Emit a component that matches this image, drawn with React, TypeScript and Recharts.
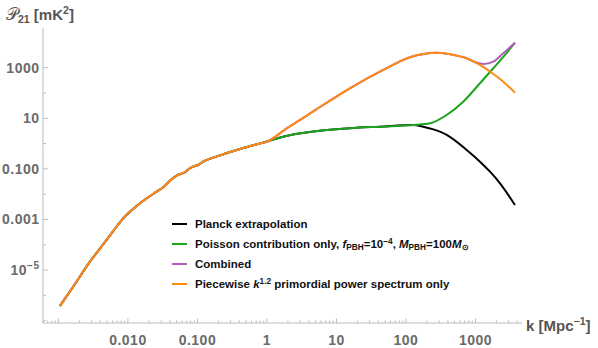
import React from "react";
import { LineChart, Line, XAxis, YAxis, Legend } from "recharts";

// k in Mpc^-1, P21 in mK^2. Below k = 1 all four curves are the same.
const lowK = [0.00105, 0.00163, 0.00284, 0.00494, 0.00856, 0.0149, 0.0259, 0.0322, 0.0426, 0.0502, 0.066, 0.078, 0.106, 0.121, 0.169, 0.235, 0.409, 0.711];
const lowP = [3.8e-7, 2.2e-6, 2.15e-5, 1.55e-4, 1.11e-3, 4.37e-3, 0.0126, 0.01875, 0.0388, 0.0538, 0.0734, 0.106, 0.152, 0.193, 0.277, 0.378, 0.612, 0.938];

const planckK = [1, 1.71, 15.6, 42.3, 127, 177, 308, 385, 747, 1161, 1618, 2254, 3700];
const planckP = [1.2, 1.87, 4.03, 4.66, 5.43, 4.66, 2.95, 2.19, 0.558, 0.193, 0.0775, 0.027, 0.00374];

const poissonK = [1, 1.71, 15.6, 42.3, 127, 221, 385, 667, 1161, 1805, 2656, 3700];
const poissonP = [1.2, 1.87, 4.03, 4.66, 5.43, 6.34, 13.5, 45.3, 242, 946, 3177, 9730];

const combinedK = [1, 2, 3, 5.19, 15.6, 47.1, 114, 276, 430, 747, 1000, 1318, 1805, 2513, 3700];
const combinedP = [1.2, 4.3, 8.6, 23, 153, 811, 2576, 3917, 3388, 2355, 1634, 1400, 1726, 3707, 9730];

const piecewiseK = [1, 2, 3, 5.19, 15.6, 47.1, 114, 276, 430, 747, 1161, 1618, 2513, 3700];
const piecewiseP = [1.2, 4.3, 8.6, 23, 153, 811, 2576, 3917, 3388, 2355, 1279, 695, 280, 103];

const xMajorTicks = [0.01, 0.1, 1, 10, 100, 1000];
const xTickLabels = ["0.010", "0.100", "1", "10", "100", "1000"];
const yMajorTicks = [1000, 10, 0.1, 0.001, 1e-5];
const yTickLabels = ["1000", "10", "0.100", "0.001", "10^-5"];
const yMinorTicks = [100, 1, 0.01, 1e-4, 1e-6, 1e-7];

const X_DOMAIN = [6.0e-4, 4.67e3];
const Y_DOMAIN = [8.1e-8, 3.7e4];

const AXIS = "#bcbcbc";
const LABEL = "#6a6a6a";
const FONT = "'Liberation Sans', Arial, sans-serif";

const rows = (ks: number[], ps: number[]) => ks.map((k, i) => ({ k, p: ps[i] }));
const withLow = (ks: number[], ps: number[]) => [...rows(lowK, lowP), ...rows(ks, ps)];

const series = [
	{ key: "planck", color: "#000000", data: withLow(planckK, planckP) },
	{ key: "poisson", color: "#1ca51c", data: withLow(poissonK, poissonP) },
	{ key: "combined", color: "#b05cb8", data: withLow(combinedK, combinedP) },
	{ key: "piecewise", color: "#ff8a12", data: withLow(piecewiseK, piecewiseP) },
];

// minor log ticks 2..9 for each decade, plus the decades themselves
const xTicks: number[] = [];
for (let d = -4; d <= 3; d++) {
	for (let m = 1; m <= 9; m++) {
		const v = m * Math.pow(10, d);
		if (v >= X_DOMAIN[0] && v <= X_DOMAIN[1]) xTicks.push(v);
	}
}
const yTicks = [...yMajorTicks, ...yMinorTicks];

const same = (a: number, b: number) => Math.abs(Math.log10(a) - Math.log10(b)) < 1e-6;
const isDecade = (v: number) => Math.abs(Math.log10(v) - Math.round(Math.log10(v))) < 1e-6;

const XTick = (props: any) => {
	const { x, y, payload } = props;
	const i = xMajorTicks.findIndex((t) => same(t, payload.value));
	return (
		<g>
			<line x1={x} x2={x} y1={y} y2={y - (isDecade(payload.value) ? 4.5 : 2.5)} stroke={AXIS} />
			{i >= 0 && (
				<text x={x} y={y + 21.5} textAnchor="middle" fill={LABEL} fontSize={14} fontWeight="bold" fontFamily={FONT} letterSpacing={0.5}>
					{xTickLabels[i]}
				</text>
			)}
		</g>
	);
};

const YTick = (props: any) => {
	const { x, y, payload } = props;
	const i = yMajorTicks.findIndex((t) => same(t, payload.value));
	const label = i >= 0 ? yTickLabels[i] : null;
	return (
		<g>
			<line x1={x} x2={x + (i >= 0 ? 5 : 3)} y1={y} y2={y} stroke={AXIS} />
			{label && (
				<text x={x - 3.5} y={y + 5} textAnchor="end" fill={LABEL} fontSize={14} fontWeight="bold" fontFamily={FONT} letterSpacing={0.5}>
					{label.includes("^") ? (
						<>
							{label.split("^")[0]}
							<tspan fontSize={10} dy={-6}>
								{label.split("^")[1].replace("-", "\u2212")}
							</tspan>
						</>
					) : (
						label
					)}
				</text>
			)}
		</g>
	);
};

const XTitle = (props: any) => {
	const { viewBox } = props;
	const x = viewBox.x + viewBox.width + 4;
	const y = viewBox.y + 8;
	return (
		<text x={x} y={y} fill="#555" fontSize={15} fontWeight="bold" fontFamily={FONT}>
			k [Mpc
			<tspan fontSize={10.5} dy={-6}>
				{"\u22121"}
			</tspan>
			<tspan dy={6}>]</tspan>
		</text>
	);
};

const YTitle = (props: any) => {
	const { viewBox } = props;
	const x = viewBox.x + 6;
	const y = viewBox.y - 8;
	return (
		<text x={x} y={y} fill="#555" fontSize={15} fontFamily={FONT}>
			<tspan fontSize={17}>{"\u{1D4AB}"}</tspan>
			<tspan fontSize={10.5} dy={3} fontWeight="bold">
				21
			</tspan>
			<tspan dy={-3} fontWeight="bold">
				{" [mK"}
			</tspan>
			<tspan fontSize={10.5} dy={-6} fontWeight="bold">
				2
			</tspan>
			<tspan dy={6} fontWeight="bold">
				]
			</tspan>
		</text>
	);
};

const sub: React.CSSProperties = { fontSize: "0.72em", verticalAlign: "-0.25em", lineHeight: 0 };
const sup: React.CSSProperties = { fontSize: "0.72em", verticalAlign: "0.45em", lineHeight: 0 };

const legendLabels: React.ReactNode[] = [
	"Planck extrapolation",
	<>
		Poisson contribution only, <i>f</i>
		<span style={sub}>PBH</span>=10<span style={sup}>{"\u22124"}</span>, <i>M</i>
		<span style={sub}>PBH</span>=100<i>M</i>
		<span style={sub}>{"\u2299"}</span>
	</>,
	"Combined",
	<>
		Piecewise <i>k</i>
		<span style={sup}>1.2</span> primordial power spectrum only
	</>,
];

const LegendBox = () => (
	<div style={{ fontFamily: FONT, fontSize: 11.5, fontWeight: "bold", color: "#111" }}>
		{series.map((s, i) => (
			<div key={s.key} style={{ display: "flex", alignItems: "center", height: 20, whiteSpace: "nowrap" }}>
				<div style={{ width: 15, height: 2, background: s.color, marginRight: 8 }} />
				<span>{legendLabels[i]}</span>
			</div>
		))}
	</div>
);

export default function App() {
	return (
		<div style={{ position: "absolute", left: 0, top: 0, width: 598, height: 348, background: "#fff" }}>
			<LineChart width={598} height={348} margin={{ top: 28, right: 76, bottom: 0, left: 0 }}>
				<XAxis
					type="number"
					dataKey="k"
					scale="log"
					domain={X_DOMAIN}
					allowDataOverflow
					ticks={xTicks}
					interval={0}
					height={25}
					tickSize={0}
					tickMargin={0}
					tickLine={false}
					axisLine={{ stroke: AXIS }}
					tick={<XTick />}
					label={<XTitle />}
				/>
				<YAxis
					type="number"
					dataKey="p"
					scale="log"
					domain={Y_DOMAIN}
					allowDataOverflow
					ticks={yTicks}
					interval={0}
					width={43}
					tickSize={0}
					tickMargin={0}
					tickLine={false}
					axisLine={{ stroke: AXIS }}
					tick={<YTick />}
					label={<YTitle />}
				/>
				{series.map((s) => (
					<Line
						key={s.key}
						data={s.data}
						dataKey="p"
						type="monotone"
						stroke={s.color}
						strokeWidth={2}
						dot={false}
						isAnimationActive={false}
					/>
				))}
				<Legend
					layout="vertical"
					align="center"
					verticalAlign="middle"
					content={<LegendBox />}
					wrapperStyle={{ position: "absolute", left: 172, top: 214, width: "auto", height: "auto" }}
				/>
			</LineChart>
		</div>
	);
}
